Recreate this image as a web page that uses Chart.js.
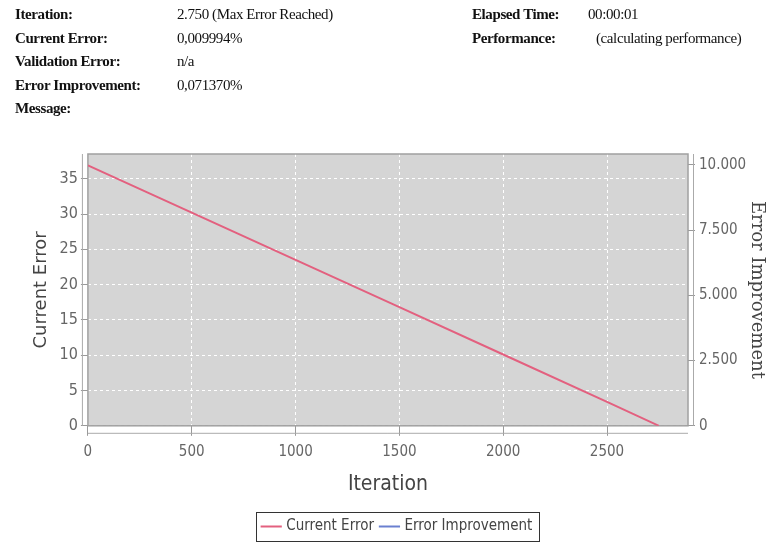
<!DOCTYPE html>
<html>
<head>
<meta charset="utf-8">
<script src="https://cdn.jsdelivr.net/npm/chart.js@4/dist/chart.umd.min.js"></script>
<style>
  html, body { margin: 0; padding: 0; background: #fff; }
  #wrap { position: relative; width: 769px; height: 547px; overflow: hidden; }
  #chart { position: absolute; left: 0; top: 0; }
  .info { position: absolute; font-family: "Liberation Serif", "Times New Roman", serif; font-size: 15px; color: #111; white-space: nowrap; letter-spacing: -0.4px; }
  .info b { font-weight: bold; }
</style>
</head>
<body>
<div id="wrap">
  <canvas id="chart" width="769" height="547"></canvas>
  <div class="info" style="left:15px;top:6px"><b>Iteration:</b></div>
  <div class="info" style="left:177px;top:6px">2.750 (Max Error Reached)</div>
  <div class="info" style="left:15px;top:30px"><b>Current Error:</b></div>
  <div class="info" style="left:177px;top:30px">0,009994%</div>
  <div class="info" style="left:15px;top:53px"><b>Validation Error:</b></div>
  <div class="info" style="left:177px;top:53px">n/a</div>
  <div class="info" style="left:15px;top:77px"><b>Error Improvement:</b></div>
  <div class="info" style="left:177px;top:77px">0,071370%</div>
  <div class="info" style="left:15px;top:100px"><b>Message:</b></div>
  <div class="info" style="left:472px;top:6px"><b>Elapsed Time:</b></div>
  <div class="info" style="left:588px;top:6px">00:00:01</div>
  <div class="info" style="left:472px;top:30px"><b>Performance:</b></div>
  <div class="info" style="left:596px;top:30px">(calculating performance)</div>
</div>
<script>
  // values
  const iterations = [0, 500, 1000, 1500, 2000, 2500, 2750];
  const currentError = [36.9, 30.2, 23.5, 16.8, 10.1, 3.4, 0];
  const errorImprovement = []; // no visible points in the reference
  const xTicks = [0, 500, 1000, 1500, 2000, 2500];
  const leftTicks = [0, 5, 10, 15, 20, 25, 30, 35];
  const rightTicks = [0, 2500, 5000, 7500, 10000];

  const narrow = "'Liberation Sans Narrow', 'DejaVu Sans Condensed', sans-serif";
  const fmtDot = (v) => String(v).replace(/\B(?=(\d{3})+(?!\d))/g, ".");
  const keepTicks = (list) => (scale) => {
    scale.ticks = list.map((v) => ({ value: v }));
  };

  const plotBg = {
    id: "plotBg",
    beforeDraw(chart) {
      const { ctx, chartArea: a } = chart;
      ctx.save();
      ctx.fillStyle = "#d5d5d5";
      ctx.fillRect(a.left, a.top, a.right - a.left, a.bottom - a.top);
      ctx.restore();
    },
    beforeDatasetsDraw(chart) {
      const { ctx, chartArea: a } = chart;
      ctx.save();
      ctx.strokeStyle = "#a0a0a0";
      ctx.lineWidth = 1.5;
      ctx.strokeRect(a.left, a.top, a.right - a.left, a.bottom - a.top);
      // offset axis lines, as in the original
      ctx.lineWidth = 1;
      ctx.strokeStyle = "#aaa";
      ctx.beginPath();
      ctx.moveTo(a.left, a.bottom + 7.5);
      ctx.lineTo(a.right, a.bottom + 7.5);
      ctx.moveTo(a.left - 5.5, a.top);
      ctx.lineTo(a.left - 5.5, a.bottom);
      ctx.moveTo(a.right + 5.5, a.top);
      ctx.lineTo(a.right + 5.5, a.bottom);
      ctx.stroke();
      ctx.restore();
    },
    afterDraw(chart) {
      const boxes = chart.legend.legendHitBoxes;
      if (!boxes || !boxes.length) return;
      const { ctx } = chart;
      const x0 = Math.min(...boxes.map((b) => b.left)) - 8;
      const x1 = Math.max(...boxes.map((b) => b.left + b.width)) + 6;
      const y0 = Math.min(...boxes.map((b) => b.top)) - 7;
      const y1 = Math.max(...boxes.map((b) => b.top + b.height)) + 7;
      ctx.save();
      ctx.strokeStyle = "#333";
      ctx.lineWidth = 1;
      ctx.strokeRect(Math.round(x0) + 0.5, Math.round(y0) + 0.5, Math.round(x1 - x0), Math.round(y1 - y0));
      ctx.restore();
    },
  };

  new Chart(document.getElementById("chart"), {
    type: "line",
    data: {
      datasets: [
        {
          label: "Current Error",
          data: iterations.map((x, i) => ({ x, y: currentError[i] })),
          borderColor: "#e3607f",
          backgroundColor: "#e3607f",
          borderWidth: 2,
          pointRadius: 0,
          tension: 0,
          yAxisID: "y",
        },
        {
          label: "Error Improvement",
          data: errorImprovement,
          borderColor: "#6b80d0",
          backgroundColor: "#6b80d0",
          borderWidth: 2,
          pointRadius: 0,
          yAxisID: "y1",
        },
      ],
    },
    plugins: [plotBg],
    options: {
      responsive: false,
      animation: false,
      layout: { padding: { top: 154, left: 27, right: 0, bottom: 3 } },
      scales: {
        x: {
          type: "linear",
          min: 0,
          max: 2890,
          afterBuildTicks: keepTicks(xTicks),
          ticks: { color: "#666", font: { family: narrow, size: 15 }, callback: (v) => String(v), padding: 7 },
          grid: { color: "#ffffff", tickColor: "#999", tickLength: 10, lineWidth: 1 },
          border: { display: false, dash: [3, 3] },
          title: { display: true, text: "Iteration", color: "#444", font: { family: narrow, size: 21 }, padding: { top: 4, bottom: 14 } },
        },
        y: {
          position: "left",
          min: 0,
          max: 38.5,
          afterBuildTicks: keepTicks(leftTicks),
          ticks: { color: "#666", font: { family: narrow, size: 16 }, padding: 3 },
          grid: { color: "#ffffff", tickColor: "#999", tickLength: 7 },
          border: { display: false, dash: [3, 3] },
          title: { display: true, text: "Current Error", color: "#444", font: { family: "'DejaVu Sans', sans-serif", size: 18 }, padding: 4 },
        },
        y1: {
          position: "right",
          min: 0,
          max: 10420,
          afterBuildTicks: keepTicks(rightTicks),
          afterFit: (scale) => { scale.width = 81; },
          ticks: { color: "#666", font: { family: narrow, size: 15 }, callback: (v) => fmtDot(v), padding: 4 },
          grid: { drawOnChartArea: false, tickColor: "#999", tickLength: 7 },
          border: { display: false },
          title: { display: true, text: "Error Improvement", color: "#444", font: { family: "'DejaVu Serif', serif", size: 18 }, padding: { top: 2, bottom: 0 } },
        },
      },
      plugins: {
        legend: {
          position: "bottom",
          labels: {
            usePointStyle: true,
            pointStyle: "line",
            boxWidth: 16,
            padding: 8,
            color: "#444",
            font: { family: narrow, size: 15 },
          },
        },
        tooltip: { enabled: false },
      },
    },
  });
</script>
</body>
</html>
